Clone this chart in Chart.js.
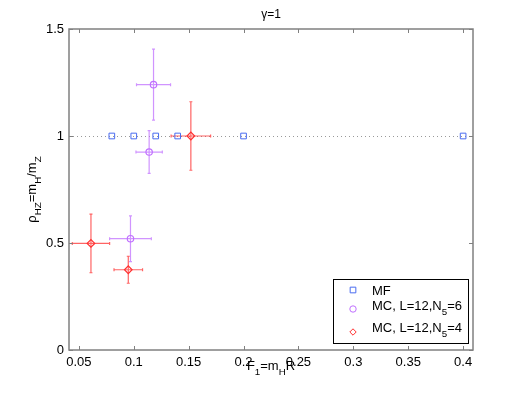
<!DOCTYPE html>
<html>
<head>
<meta charset="utf-8">
<script src="https://cdn.jsdelivr.net/npm/chart.js@4/dist/chart.umd.min.js"></script>
<style>
  body { margin: 0; background: #fff; }
  canvas { display: block; }
</style>
</head>
<body>
<canvas id="chart" width="523" height="393"></canvas>
<script>
const xTicks = [0.05, 0.1, 0.15, 0.2, 0.25, 0.3, 0.35, 0.4];
const yTicks = [0, 0.5, 1, 1.5];
const xRange = [0.041, 0.409];
const yRange = [0, 1.5];
const refLevel = 1;

const mfX = [0.08, 0.1, 0.12, 0.14, 0.2, 0.4];
const mfY = [1, 1, 1, 1, 1, 1];

const mc6X = [0.118, 0.114, 0.097];
const mc6Y = [1.24, 0.925, 0.52];
const mc6XErr = [0.0155, 0.012, 0.019];
const mc6YErr = [0.166, 0.1, 0.107];

const mc4X = [0.152, 0.061, 0.095];
const mc4Y = [1.0, 0.498, 0.375];
const mc4XErr = [0.018, 0.017, 0.013];
const mc4YErr = [0.16, 0.137, 0.063];

const FONT = '"Liberation Sans", Arial, sans-serif';
const BLUE = "#4a6cf0";
const VIOLET = "#c070ff";
const RED = "#ff3030";

function toPoints(xs, ys) {
  return xs.map((x, i) => ({ x: x, y: ys[i] }));
}

// scrive testo con pedici: parti = [[testo, pedice?], ...]
function drawRich(ctx, parts, x, y, size, align) {
  const sub = size * 0.75;
  let total = 0;
  parts.forEach(([t, s]) => {
    ctx.font = (s ? sub : size) + "px " + FONT;
    total += ctx.measureText(t).width;
  });
  let cx = align === "center" ? x - total / 2 : x;
  ctx.textAlign = "left";
  ctx.textBaseline = "alphabetic";
  parts.forEach(([t, s]) => {
    ctx.font = (s ? sub : size) + "px " + FONT;
    ctx.fillText(t, cx, s ? y + size * 0.35 : y);
    cx += ctx.measureText(t).width;
  });
}

const errorBars = {
  id: "errorBars",
  beforeDatasetsDraw(chart) {
    const ctx = chart.ctx;
    const xs = chart.scales.x;
    const ys = chart.scales.y;
    const area = chart.chartArea;

    // linea tratteggiata di riferimento
    ctx.save();
    ctx.strokeStyle = "#999";
    ctx.lineWidth = 1;
    ctx.setLineDash([1, 3]);
    const yr = Math.round(ys.getPixelForValue(refLevel)) + 0.5;
    ctx.beginPath();
    ctx.moveTo(area.left, yr);
    ctx.lineTo(area.right, yr);
    ctx.stroke();
    ctx.restore();

    const sets = [
      [mc6X, mc6Y, mc6XErr, mc6YErr, "rgba(192,112,255,0.75)"],
      [mc4X, mc4Y, mc4XErr, mc4YErr, "rgba(255,48,48,0.75)"],
    ];
    ctx.save();
    ctx.lineWidth = 1.2;
    sets.forEach(([px, py, ex, ey, col]) => {
      ctx.strokeStyle = col;
      px.forEach((x, i) => {
        const cx = xs.getPixelForValue(x);
        const cy = ys.getPixelForValue(py[i]);
        const x0 = xs.getPixelForValue(x - ex[i]);
        const x1 = xs.getPixelForValue(x + ex[i]);
        const y0 = ys.getPixelForValue(py[i] - ey[i]);
        const y1 = ys.getPixelForValue(py[i] + ey[i]);
        ctx.beginPath();
        ctx.moveTo(x0, cy); ctx.lineTo(x1, cy);
        ctx.moveTo(x0, cy - 1.5); ctx.lineTo(x0, cy + 1.5);
        ctx.moveTo(x1, cy - 1.5); ctx.lineTo(x1, cy + 1.5);
        ctx.moveTo(cx, y0); ctx.lineTo(cx, y1);
        ctx.moveTo(cx - 1.5, y0); ctx.lineTo(cx + 1.5, y0);
        ctx.moveTo(cx - 1.5, y1); ctx.lineTo(cx + 1.5, y1);
        ctx.stroke();
      });
    });
    ctx.restore();
  },
  afterDraw(chart) {
    const ctx = chart.ctx;
    const xs = chart.scales.x;
    const ys = chart.scales.y;
    const a = chart.chartArea;

    // cornice e tacche interne
    ctx.save();
    ctx.strokeStyle = "#808080";
    ctx.lineWidth = 1.5;
    ctx.strokeRect(a.left, a.top, a.right - a.left, a.bottom - a.top);
    ctx.lineWidth = 1;
    ctx.beginPath();
    xTicks.forEach((v) => {
      const p = Math.round(xs.getPixelForValue(v)) + 0.5;
      ctx.moveTo(p, a.bottom); ctx.lineTo(p, a.bottom - 4);
      ctx.moveTo(p, a.top); ctx.lineTo(p, a.top + 4);
    });
    yTicks.forEach((v) => {
      const p = Math.round(ys.getPixelForValue(v)) + 0.5;
      ctx.moveTo(a.left, p); ctx.lineTo(a.left + 4, p);
      ctx.moveTo(a.right, p); ctx.lineTo(a.right - 4, p);
    });
    ctx.stroke();
    ctx.restore();

    ctx.save();
    ctx.fillStyle = "#000";
    // titolo
    drawRich(ctx, [["γ=1"]], (a.left + a.right) / 2, 18, 12, "center");
    // titolo asse x
    drawRich(ctx, [["F"], ["1", true], ["=m"], ["H", true], ["R"]],
      (a.left + a.right) / 2, 370, 13, "center");
    // titolo asse y
    ctx.translate(36, (a.top + a.bottom) / 2);
    ctx.rotate(-Math.PI / 2);
    drawRich(ctx, [["ρ"], ["HZ", true], ["=m"], ["H", true], ["/m"], ["Z", true]],
      0, 0, 13, "center");
    ctx.restore();

    // legenda
    ctx.save();
    const lx = 333, ly = 279, lw = 135, lh = 64;
    ctx.fillStyle = "#fff";
    ctx.fillRect(lx, ly, lw, lh);
    ctx.strokeStyle = "#000";
    ctx.lineWidth = 1;
    ctx.strokeRect(lx + 0.5, ly + 0.5, lw, lh);
    const rows = [
      ["rect", BLUE, 290, [["MF"]], 290],
      ["circle", VIOLET, 309, [["MC, L=12,N"], ["5", true], ["=6"]], 305],
      ["rectRot", RED, 332, [["MC, L=12,N"], ["5", true], ["=4"]], 327],
    ];
    rows.forEach(([style, col, my, parts, ty]) => {
      ctx.strokeStyle = col;
      ctx.fillStyle = "rgba(0,0,0,0)";
      ctx.lineWidth = 1;
      Chart.helpers.drawPoint(ctx, { pointStyle: style, radius: style === "rect" ? 4 : 3.2, borderWidth: 1 }, 353, my);
      ctx.fillStyle = "#000";
      drawRich(ctx, parts, 372, ty + 5, 13, "left");
    });
    ctx.restore();
  },
};

new Chart(document.getElementById("chart"), {
  type: "scatter",
  data: {
    datasets: [
      {
        label: "MF",
        data: toPoints(mfX, mfY),
        pointStyle: "rect",
        pointRadius: 4,
        borderColor: BLUE,
        backgroundColor: "rgba(0,0,0,0)",
        borderWidth: 1,
      },
      {
        label: "MC, L=12,N5=6",
        data: toPoints(mc6X, mc6Y),
        pointStyle: "circle",
        pointRadius: 3.2,
        borderColor: VIOLET,
        backgroundColor: "rgba(0,0,0,0)",
        borderWidth: 1.2,
      },
      {
        label: "MC, L=12,N5=4",
        data: toPoints(mc4X, mc4Y),
        pointStyle: "rectRot",
        pointRadius: 3.8,
        borderColor: RED,
        backgroundColor: "rgba(0,0,0,0)",
        borderWidth: 1.2,
      },
    ],
  },
  options: {
    responsive: false,
    animation: false,
    layout: { padding: { top: 29, right: 50, left: 0, bottom: 0 } },
    plugins: { legend: { display: false }, tooltip: { enabled: false } },
    scales: {
      x: {
        type: "linear",
        min: xRange[0],
        max: xRange[1],
        grid: { display: false, drawTicks: false },
        border: { display: false },
        afterBuildTicks: (s) => { s.ticks = xTicks.map((v) => ({ value: v })); },
        afterFit: (s) => { s.height = 43; },
        ticks: {
          color: "#000",
          padding: 5,
          maxRotation: 0,
          autoSkip: false,
          font: { family: FONT, size: 13 },
          callback: (v) => String(parseFloat(v.toFixed(2))),
        },
      },
      y: {
        type: "linear",
        min: yRange[0],
        max: yRange[1],
        grid: { display: false, drawTicks: false },
        border: { display: false },
        afterBuildTicks: (s) => { s.ticks = yTicks.map((v) => ({ value: v })); },
        afterFit: (s) => { s.width = 69; },
        ticks: {
          color: "#000",
          padding: 5,
          autoSkip: false,
          font: { family: FONT, size: 13 },
          callback: (v) => String(parseFloat(v.toFixed(2))),
        },
      },
    },
  },
  plugins: [errorBars],
});
</script>
</body>
</html>
